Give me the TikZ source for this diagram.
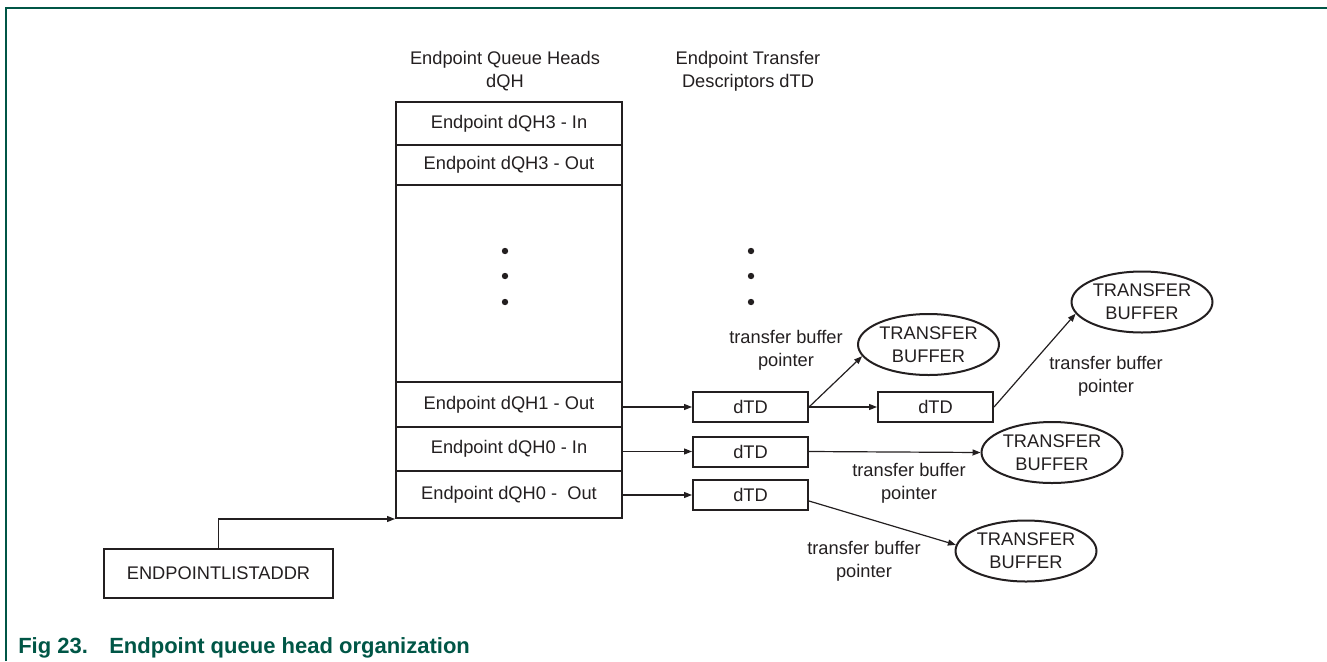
\documentclass[tikz,border=0pt]{standalone}
\usepackage{fontspec}
\setmainfont{Liberation Sans}
\usetikzlibrary{arrows.meta,shapes.geometric}
\definecolor{ink}{HTML}{231F20}
\definecolor{nxpgreen}{RGB}{0,86,70}
\begin{document}
\begin{tikzpicture}[x=0.75pt,y=-0.75pt,
  every node/.style={text=ink, font=\fontsize{13.7}{17}\selectfont, inner sep=0pt},
  cell/.style={draw=ink, line width=1.5pt, rectangle, minimum width=169.5pt},
  dtd/.style={draw=ink, line width=1.5pt, rectangle, minimum width=86.25pt, minimum height=22.5pt},
  buf/.style={draw=ink, line width=1.5pt, ellipse, minimum width=105.75pt, minimum height=45.75pt, align=center},
  lbl/.style={align=center},
  ptr/.style={draw=ink, line width=0.9pt, -{Triangle[length=6pt,width=4.5pt]}},
  frame/.style={draw=nxpgreen, line width=1.5pt},
  dot/.style={fill=ink}
]
\useasboundingbox (0,0) rectangle (1327,661);

% frame
\draw[frame] (6,661) -- (6,8) -- (1327,8);

% titles
\node[lbl] (t1) at (505,71) {Endpoint Queue Heads\\dQH};
\node[lbl] (t2) at (748,71) {Endpoint Transfer\\Descriptors dTD};

% main column
\node[cell, minimum height=32.25pt] (r3in)  at (509,123.5) {Endpoint dQH3 - In};
\node[cell, minimum height=30pt]    (r3out) at (509,165)   {Endpoint dQH3 - Out};
\node[cell, minimum height=147.75pt] (mid)  at (509,283.5) {};
\node[cell, minimum height=33.75pt] (r1out) at (509,404.5) {Endpoint dQH1 - Out};
\node[cell, minimum height=33pt]    (r0in)  at (509,449)   {Endpoint dQH0 - In};
\node[cell, minimum height=35.25pt] (r0out) at (509,494.5) {Endpoint dQH0 -\ \ Out};

% dots
\foreach \yy in {251,276,302} {
  \fill[dot] (505,\yy) circle[radius=2.4pt];
  \fill[dot] (751,\yy) circle[radius=2.4pt];
}

% dTDs
\node[dtd] (d1)  at (750.5,407)   {dTD};
\node[dtd] (d2)  at (750.5,451.5) {dTD};
\node[dtd] (d3)  at (750.5,495)   {dTD};
\node[dtd] (d1b) at (935.5,407)   {dTD};

% buffers
\node[buf] (e1) at (928.5,344.5) {TRANSFER\\BUFFER};
\node[buf] (e2) at (1142,302)    {TRANSFER\\BUFFER};
\node[buf] (e3) at (1052,452.5)  {TRANSFER\\BUFFER};
\node[buf] (e4) at (1026,551)    {TRANSFER\\BUFFER};

% labels
\node[lbl] (l1) at (786,350.5) {transfer buffer\\pointer};
\node[lbl] (l2) at (1106,376)  {transfer buffer\\pointer};
\node[lbl] (l3) at (909,483.5) {transfer buffer\\pointer};
\node[lbl] (l4) at (864,561)   {transfer buffer\\pointer};

% list address
\node[draw=ink, line width=1.5pt, minimum width=171.75pt, minimum height=36.75pt] (ela) at (218.5,573.5) {ENDPOINTLISTADDR};

% connectors
\draw[ptr] (ela.north) |- (r0out.south west);
\draw[ptr] (r1out.east |- d1.west) -- (d1.west);
\draw[ptr] (r0in.east |- d2.west) -- (d2.west);
\draw[ptr] (r0out.east |- d3.west) -- (d3.west);
\draw[ptr] (d1.east) -- (d1b.west);
\draw[ptr] (d1.east) -- (e1.190);
\draw[ptr] (d1b.east) -- (e2.190);
\draw[ptr] (d2.east) -- (e3.west);
\draw[ptr] ([yshift=-4.5pt]d3.east) -- (e4.175);

% caption
\node[anchor=base west, text=nxpgreen, font=\fontsize{16.5}{20}\selectfont\bfseries] (cap) at (18,653) {Fig 23.\hspace{16pt}Endpoint queue head organization};
\end{tikzpicture}
\end{document}
